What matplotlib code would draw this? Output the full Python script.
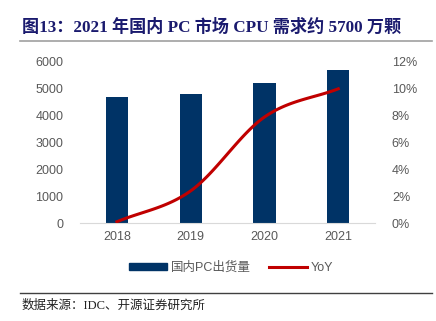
import numpy as np
import matplotlib.pyplot as plt
from matplotlib.lines import Line2D
from matplotlib.patches import Patch

plt.rcParams['font.family'] = ['Liberation Sans', 'Noto Sans CJK SC', 'DejaVu Sans']

years = ["2018", "2019", "2020", "2021"]
shipments = [4700, 4800, 5200, 5700]
yoy = [0.1, 2.4, 7.9, 10.0]

bar_color = "#003366"
line_color = "#c00000"
grey = "#595959"


def smooth(xs, ys, n=40):
    # Catmull-Rom spline through the points, just for a smooth line
    xs = np.asarray(xs, float)
    ys = np.asarray(ys, float)
    px = np.concatenate([[2 * xs[0] - xs[1]], xs, [2 * xs[-1] - xs[-2]]])
    py = np.concatenate([[2 * ys[0] - ys[1]], ys, [2 * ys[-1] - ys[-2]]])
    outx, outy = [], []
    for i in range(1, len(px) - 2):
        t = np.linspace(0, 1, n)
        for p, out in ((px, outx), (py, outy)):
            p0, p1, p2, p3 = p[i - 1], p[i], p[i + 1], p[i + 2]
            out.extend(0.5 * (2 * p1 + (-p0 + p2) * t
                              + (2 * p0 - 5 * p1 + 4 * p2 - p3) * t ** 2
                              + (-p0 + 3 * p1 - 3 * p2 + p3) * t ** 3))
    return np.array(outx), np.array(outy)


fig = plt.figure(figsize=(4.36, 3.21), dpi=100)
ax = fig.add_axes([0.1835, 0.305, 0.677, 0.502])
x = np.arange(len(years))
ax.bar(x, shipments, width=0.3, color=bar_color, zorder=2)
ax.set_xlim(-0.5, 3.5)
ax.set_ylim(0, 6000)
ax.set_yticks(range(0, 6001, 1000))
ax.set_xticks(x)
ax.set_xticklabels(years)
for s in ["top", "left", "right"]:
    ax.spines[s].set_visible(False)
ax.spines["bottom"].set_color("#d9d9d9")
ax.tick_params(axis="both", colors=grey, labelsize=9, length=0)
ax.tick_params(axis="y", pad=12)
ax.tick_params(axis="x", pad=6)

ax2 = ax.twinx()
sx, sy = smooth(x, yoy)
ax2.plot(sx, sy, color=line_color, lw=2.2, zorder=3)
ax2.set_ylim(0, 12)
ax2.set_yticks(range(0, 13, 2))
ax2.set_yticklabels([f"{v}%" for v in range(0, 13, 2)])
for s in ["top", "left", "right", "bottom"]:
    ax2.spines[s].set_visible(False)
ax2.tick_params(axis="y", colors=grey, labelsize=9, length=0, pad=12)

handles = [Patch(color=bar_color), Line2D([0], [0], color=line_color, lw=2.2)]
fig.legend(handles, ["国内PC出货量", "YoY"], loc="center", bbox_to_anchor=(0.53, 0.165),
           ncol=2, frameon=False, fontsize=9, labelcolor=grey, handlelength=3,
           handleheight=0.5, columnspacing=1.5, handletextpad=0.3)

fig.text(0.05, 0.915, "图13：2021 年国内 PC 市场 CPU 需求约 5700 万颗", fontsize=12.3,
         fontweight="bold", color="#1a1a6e", family=["Liberation Serif", "Noto Sans CJK SC"],
         va="center")
fig.add_artist(Line2D([0.045, 0.99], [0.872, 0.872], color="#a0a0a0", lw=1.2))
fig.add_artist(Line2D([0.045, 0.99], [0.087, 0.087], color="#404040", lw=1))
fig.text(0.05, 0.047, "数据来源：IDC、开源证券研究所", fontsize=9, color="#222222",
         family=["Liberation Serif", "Noto Sans CJK SC"], va="center")

fig.savefig("out.png", dpi=100)
